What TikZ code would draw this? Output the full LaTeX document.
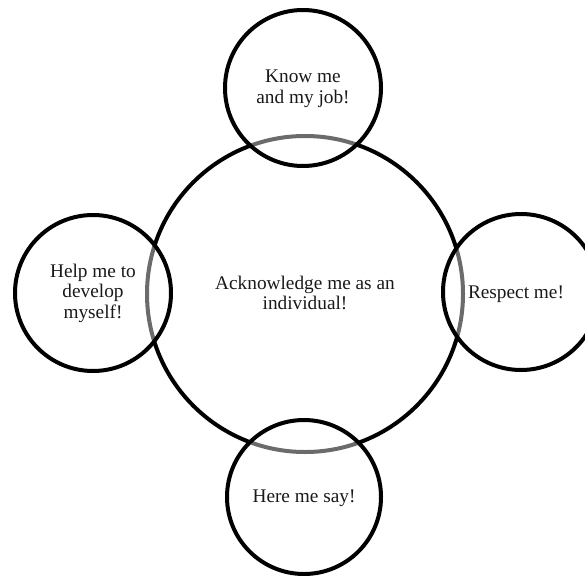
\documentclass[tikz,border=0pt]{standalone}
\usepackage{fontspec}
\setmainfont{Liberation Serif}
\begin{document}
\begin{tikzpicture}[x=1pt,y=-1pt,
  ring/.style={draw=black, line width=4pt},
  petal/.style={ring, fill=white, fill opacity=0.42, text opacity=1},
  label/.style={font=\fontsize{19.3}{20.5}\selectfont, align=center, text=black!90}]
  \useasboundingbox (0,0) rectangle (585,578);
  \clip (0,0) rectangle (585,578);
  % central circle
  \draw[ring] (305,294) circle[radius=158];
  \node[label] (core) at (305,293) {Acknowledge me as an\\individual!};
  % surrounding circles, whitewashed so the central rim shows grey beneath
  \draw[petal] (303,88) circle[radius=78];
  \draw[petal] (93,293) circle[radius=78];
  \draw[petal] (521,292) circle[radius=78];
  \draw[petal] (304,497) circle[radius=77];
  \node[label] (top) at (303,89) {Know me\\and my job!};
  \node[label] (left) at (93,293) {Help me to\\develop\\myself!};
  \node[label] (right) at (516,294) {Respect me!};
  \node[label] (bottom) at (304,498) {Here me say!};
\end{tikzpicture}
\end{document}
